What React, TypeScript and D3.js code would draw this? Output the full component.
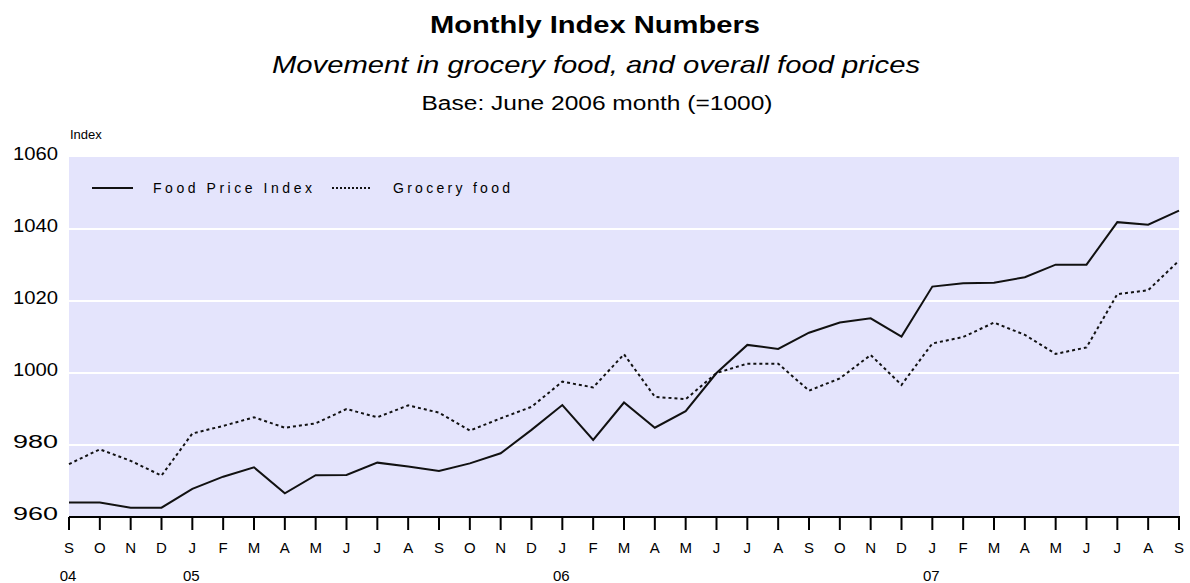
import React from 'react';
import * as d3 from 'd3';

// Months Sep 2004 .. Sep 2007
const monthLetters = [
    'S', 'O', 'N', 'D',
    'J', 'F', 'M', 'A', 'M', 'J', 'J', 'A', 'S', 'O', 'N', 'D',
    'J', 'F', 'M', 'A', 'M', 'J', 'J', 'A', 'S', 'O', 'N', 'D',
    'J', 'F', 'M', 'A', 'M', 'J', 'J', 'A', 'S',
];

// year labels and the month index they sit under
const yearLabels = ['04', '05', '06', '07'];
const yearIndex = [0, 4, 16, 28];

const foodPriceIndex = [
    964, 964, 962.6, 962.6,
    967.8, 971.2, 973.8, 966.6, 971.6, 971.7, 975.1, 974, 972.8, 974.9, 977.7, 984.2,
    991.1, 981.4, 991.8, 984.8, 989.4, 1000, 1007.8, 1006.7, 1011.2, 1014, 1015.2, 1010.1,
    1024, 1024.9, 1025.1, 1026.6, 1030.1, 1030.1, 1041.9, 1041.2, 1045.1,
];

const groceryFood = [
    974.7, 978.8, 975.6, 971.5,
    983.2, 985.3, 987.7, 984.8, 986, 990, 987.7, 991, 989, 984, 987.4, 990.6,
    997.6, 996, 1005.2, 993.4, 992.7, 1000, 1002.6, 1002.6, 995.1, 998.5, 1005, 996.7,
    1008.2, 1010, 1014, 1010.6, 1005.3, 1007.1, 1021.9, 1023, 1031.2,
];

const yTicks = [960, 980, 1000, 1020, 1040, 1060];

const width = 1190;
const height = 583;
const plot = { left: 69, right: 1179, top: 157, bottom: 517 };
const font = "'Liberation Sans', Arial, sans-serif";

export default function App() {
    const x = d3.scaleLinear()
        .domain([0, monthLetters.length - 1])
        .range([plot.left, plot.right]);

    const y = d3.scaleLinear()
        .domain([960, 1060])
        .range([plot.bottom, plot.top]);

    const line = d3.line<number>()
        .x((d, i) => x(i))
        .y(d => y(d));

    return (
        <svg width={width} height={height} style={{ position: 'absolute', left: 0, top: 0 }} fontFamily={font}>
            <rect width={width} height={height} fill="#fff" />

            {/* titles */}
            <text x={595} y={33} textAnchor="middle" fontSize={24} fontWeight="bold"
                textLength={330} lengthAdjust="spacingAndGlyphs">Monthly Index Numbers</text>
            <text x={596} y={73} textAnchor="middle" fontSize={24} fontStyle="italic"
                textLength={648} lengthAdjust="spacingAndGlyphs">Movement in grocery food, and overall food prices</text>
            <text x={597} y={110} textAnchor="middle" fontSize={20}
                textLength={351} lengthAdjust="spacingAndGlyphs">Base: June 2006 month (=1000)</text>
            <text x={70} y={139} fontSize={13}>Index</text>

            {/* plot background */}
            <rect x={plot.left} y={plot.top} width={plot.right - plot.left} height={plot.bottom - plot.top} fill="#e4e4fc" />

            {/* gridlines */}
            {yTicks.filter(t => t !== 960 && t !== 1060).map(t => (
                <line key={t} x1={plot.left} x2={plot.right} y1={y(t)} y2={y(t)} stroke="#fff" strokeWidth={2} />
            ))}

            {/* y labels */}
            {yTicks.map(t => (
                <text key={t} x={58} y={y(t) - 2} textAnchor="end" dominantBaseline="middle" fontSize={18}
                    textLength={45} lengthAdjust="spacingAndGlyphs">{t}</text>
            ))}

            {/* legend */}
            <line x1={92} x2={133} y1={188} y2={188} stroke="#111" strokeWidth={2} />
            <text x={153} y={193} fontSize={14} textLength={159} lengthAdjust="spacing">Food Price Index</text>
            <line x1={332} x2={372} y1={188} y2={188} stroke="#111" strokeWidth={2} strokeDasharray="2,2" />
            <text x={393} y={193} fontSize={14} textLength={117} lengthAdjust="spacing">Grocery food</text>

            {/* series */}
            <path d={line(groceryFood) ?? ''} fill="none" stroke="#111" strokeWidth={2} strokeDasharray="3,3" />
            <path d={line(foodPriceIndex) ?? ''} fill="none" stroke="#111" strokeWidth={2} />

            {/* x axis */}
            <line x1={plot.left} x2={plot.right + 1} y1={plot.bottom} y2={plot.bottom} stroke="#000" strokeWidth={2} />
            {monthLetters.map((m, i) => (
                <g key={i}>
                    <line x1={x(i)} x2={x(i)} y1={plot.bottom} y2={plot.bottom + 13} stroke="#000" strokeWidth={2} />
                    <text x={x(i)} y={553} textAnchor="middle" fontSize={15}>{m}</text>
                </g>
            ))}
            {yearLabels.map((lab, i) => (
                <text key={lab} x={x(yearIndex[i]) - 1} y={581} textAnchor="middle" fontSize={15}>{lab}</text>
            ))}
        </svg>
    );
}
